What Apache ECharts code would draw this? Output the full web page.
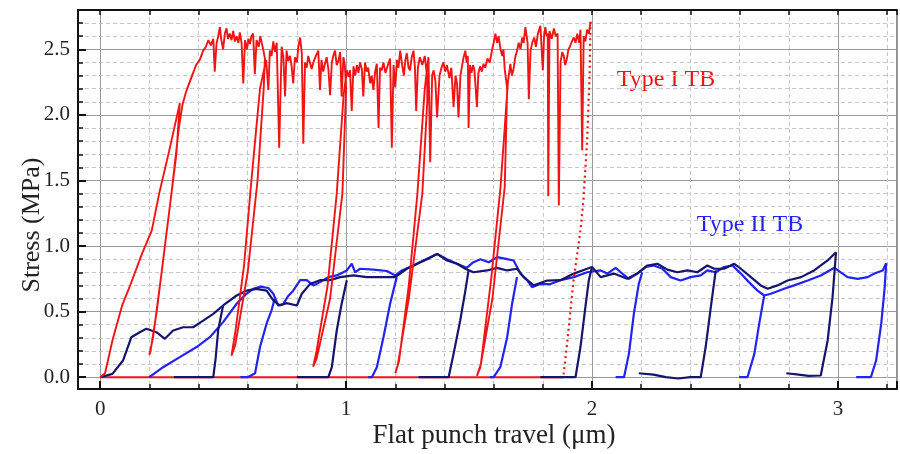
<!DOCTYPE html>
<html>
<head>
<meta charset="utf-8">
<title>Stress vs flat punch travel</title>
<script src="https://cdn.jsdelivr.net/npm/echarts@6/dist/echarts.min.js"></script>
<style>
  html, body { margin: 0; padding: 0; background: #fff; }
  #chart { width: 900px; height: 454px; }
</style>
</head>
<body>
<div id="chart"></div>
<script>
// ---- 数据----
// 坐标轴范围
var xRange = [-0.09, 3.24];
var yRange = [-0.09, 2.8];

// Type I TB 红色主曲线（含卸载/再加载回线）
var redMain = [
  [0, 0], [0.02, 0.03], [0.05, 0.28], [0.09, 0.55], [0.12, 0.69], [0.17, 0.94], [0.21, 1.12], [0.24, 1.40], [0.28, 1.72], [0.324, 2.09],
  [0.31, 1.7], [0.27, 1.1], [0.23, 0.5], [0.205, 0.2], [0.2, 0.17], [0.215, 0.3], [0.25, 0.8], [0.29, 1.4], [0.32, 1.9], [0.335, 2.08],
  [0.35, 2.18], [0.37, 2.28], [0.39, 2.38], [0.405, 2.42], [0.419, 2.49], [0.43, 2.52], [0.44, 2.57], [0.45, 2.53], [0.46, 2.58], [0.466, 2.33],
  [0.473, 2.54], [0.48, 2.6], [0.487, 2.67], [0.492, 2.58], [0.5, 2.5], [0.507, 2.62], [0.514, 2.66], [0.52, 2.58], [0.527, 2.62], [0.534, 2.57],
  [0.541, 2.64], [0.548, 2.56], [0.555, 2.6], [0.562, 2.55], [0.568, 2.63], [0.575, 2.55], [0.582, 2.24], [0.589, 2.57], [0.597, 2.5], [0.603, 2.58],
  [0.609, 2.54], [0.615, 2.6], [0.622, 2.62], [0.629, 2.31], [0.636, 2.57], [0.645, 2.52], [0.651, 2.6], [0.657, 2.59], [0.663, 2.5], [0.67, 2.43],
  [0.665, 2.2], [0.64, 1.5], [0.6, 0.8], [0.55, 0.25], [0.534, 0.165], [0.55, 0.35], [0.585, 0.85], [0.615, 1.5], [0.65, 2.2], [0.675, 2.42],
  [0.684, 2.19], [0.69, 2.49], [0.697, 2.45], [0.704, 2.56], [0.711, 2.48], [0.718, 2.55], [0.728, 1.75], [0.738, 2.52], [0.745, 2.44], [0.752, 2.14],
  [0.758, 2.49], [0.765, 2.41], [0.772, 2.45], [0.778, 2.38], [0.785, 2.24], [0.792, 2.44], [0.8, 2.4], [0.806, 2.52], [0.813, 2.59], [0.82, 2.47],
  [0.826, 1.78], [0.833, 2.4], [0.84, 2.36], [0.846, 2.45], [0.853, 2.44], [0.86, 2.35], [0.867, 2.40], [0.877, 2.45], [0.887, 2.49], [0.894, 2.19],
  [0.9, 2.42], [0.907, 2.33], [0.914, 2.39], [0.921, 2.44], [0.928, 2.35], [0.935, 2.15], [0.942, 2.4], [0.948, 2.45], [0.955, 2.49], [0.962, 2.38],
  [0.97, 2.42], [0.976, 2.48], [0.982, 2.14], [0.989, 2.44], [0.995, 2.38],
  [1.0, 2.2], [0.985, 1.4], [0.935, 0.6], [0.88, 0.14], [0.866, 0.08], [0.88, 0.2], [0.925, 0.7], [0.962, 1.4], [0.99, 2.15], [1.003, 2.34],
  [1.01, 2.29], [1.016, 2.34], [1.023, 2.03], [1.03, 2.37], [1.037, 2.3], [1.044, 2.38], [1.05, 2.32], [1.057, 2.40], [1.064, 2.35], [1.07, 2.14],
  [1.077, 2.40], [1.084, 2.33], [1.09, 2.36], [1.098, 2.24], [1.104, 2.3], [1.111, 2.19], [1.118, 2.33], [1.125, 2.39], [1.132, 1.90], [1.138, 2.36],
  [1.145, 2.34], [1.152, 2.4], [1.16, 2.32], [1.17, 2.38], [1.179, 2.43], [1.186, 1.75], [1.193, 2.38], [1.2, 2.21], [1.207, 2.42], [1.213, 2.36],
  [1.22, 2.49], [1.228, 2.38], [1.235, 2.30], [1.241, 2.42], [1.247, 2.47], [1.254, 2.36], [1.26, 2.34], [1.267, 2.44], [1.274, 2.49], [1.28, 2.36],
  [1.285, 2.03], [1.292, 2.36], [1.30, 2.44], [1.31, 2.38], [1.32, 2.45], [1.33, 2.28],
  [1.33, 2.1], [1.31, 1.4], [1.255, 0.6], [1.21, 0.09], [1.2, 0.03], [1.215, 0.12], [1.255, 0.7], [1.29, 1.4], [1.32, 2.2], [1.335, 2.44],
  [1.342, 1.64], [1.35, 2.3], [1.356, 2.34], [1.363, 2.26], [1.37, 1.98], [1.38, 2.30], [1.388, 2.36], [1.396, 2.40], [1.403, 2.33], [1.41, 2.38],
  [1.42, 2.28], [1.428, 2.36], [1.437, 2.06], [1.445, 2.30], [1.451, 2.24], [1.457, 1.98], [1.465, 2.30], [1.472, 2.38], [1.478, 2.44], [1.485, 2.49],
  [1.49, 2.4], [1.495, 2.45], [1.498, 1.90], [1.504, 2.38], [1.51, 2.32], [1.516, 2.38], [1.522, 2.34], [1.532, 2.06], [1.538, 2.32], [1.545, 2.37],
  [1.552, 2.33], [1.559, 2.39], [1.566, 2.36], [1.575, 2.43], [1.584, 2.4], [1.593, 2.49], [1.6, 2.55], [1.607, 2.62], [1.614, 2.55], [1.62, 2.60],
  [1.628, 2.5], [1.635, 2.45], [1.64, 2.5], [1.645, 2.35],
  [1.655, 2.2], [1.645, 1.45], [1.595, 0.6], [1.545, 0.07], [1.532, 0.01], [1.548, 0.1], [1.59, 0.75], [1.628, 1.45], [1.658, 2.25], [1.668, 2.39],
  [1.674, 2.3], [1.68, 2.34], [1.688, 2.44], [1.695, 2.49], [1.702, 2.55], [1.709, 2.5], [1.716, 2.59], [1.722, 2.55], [1.729, 2.67], [1.738, 2.55],
  [1.743, 2.12], [1.75, 2.49], [1.757, 2.55], [1.765, 2.59], [1.772, 2.52], [1.78, 2.62], [1.79, 2.68], [1.80, 2.34], [1.805, 2.6], [1.81, 2.67],
  [1.816, 2.6], [1.82, 2.62], [1.822, 1.38], [1.827, 2.64], [1.836, 2.58], [1.845, 2.66], [1.852, 2.6], [1.86, 2.62], [1.865, 1.31], [1.872, 2.40],
  [1.879, 2.48], [1.885, 2.45], [1.891, 2.38], [1.897, 2.42], [1.904, 2.5], [1.91, 2.52], [1.918, 2.56], [1.926, 2.59], [1.933, 2.55], [1.94, 2.62],
  [1.948, 2.55], [1.953, 2.65], [1.96, 1.73], [1.966, 2.60], [1.973, 2.56], [1.98, 2.65], [1.987, 2.62], [1.994, 2.71]
];
// 最后一次卸载（点线）
var redDotted = [[1.994, 2.71], [1.99, 2.3], [1.98, 1.8], [1.965, 1.35], [1.953, 1.12], [1.925, 0.74], [1.9, 0.28], [1.884, 0.01]];
// 红色零应力基线
var redBase = [[0, 0], [1.884, 0]];

// Type II TB 深蓝曲线
var navyCurve = [
  [0, 0], [0.05, 0.025], [0.093, 0.127], [0.127, 0.305], [0.161, 0.343], [0.188, 0.369], [0.229, 0.343], [0.263, 0.293], [0.297, 0.356], [0.337, 0.381],
  [0.378, 0.381], [0.419, 0.432], [0.46, 0.483], [0.5, 0.547], [0.555, 0.623], [0.595, 0.66], [0.636, 0.674], [0.677, 0.66], [0.704, 0.585], [0.73, 0.547],
  [0.758, 0.565], [0.8, 0.547], [0.82, 0.636], [0.853, 0.71], [0.894, 0.74], [0.935, 0.74], [0.976, 0.763], [1.03, 0.776], [1.084, 0.763], [1.138, 0.763],
  [1.2, 0.763], [1.247, 0.827], [1.302, 0.877], [1.33, 0.90], [1.37, 0.94], [1.41, 0.89], [1.451, 0.865], [1.485, 0.827], [1.518, 0.80], [1.573, 0.814],
  [1.614, 0.834], [1.655, 0.814], [1.695, 0.827], [1.722, 0.763], [1.763, 0.70], [1.818, 0.737], [1.872, 0.74], [1.926, 0.79], [1.98, 0.827], [2.0, 0.84],
  [2.035, 0.763], [2.089, 0.79], [2.143, 0.75], [2.184, 0.79], [2.225, 0.852], [2.266, 0.865], [2.306, 0.82], [2.347, 0.80], [2.388, 0.814], [2.428, 0.80],
  [2.469, 0.852], [2.497, 0.827], [2.537, 0.827], [2.578, 0.865], [2.605, 0.827], [2.646, 0.763], [2.686, 0.70], [2.714, 0.674], [2.754, 0.70], [2.795, 0.737],
  [2.85, 0.763], [2.903, 0.814], [2.958, 0.89], [2.992, 0.953]
];
// 深蓝再加载段
var navyReloads = [
  [[0.3, 0], [0.46, 0], [0.47, 0.15], [0.48, 0.36], [0.5, 0.547]],
  [[0.8, 0], [0.928, 0], [0.942, 0.076], [0.962, 0.356], [0.982, 0.56], [1.003, 0.74]],
  [[1.295, 0], [1.417, 0], [1.437, 0.178], [1.464, 0.432], [1.485, 0.66], [1.498, 0.814]],
  [[1.79, 0], [1.933, 0], [1.953, 0.23], [1.973, 0.534], [1.987, 0.74], [2.0, 0.84]],
  [[2.19, 0.03], [2.25, 0.02], [2.3, 0.0], [2.35, -0.01], [2.4, 0.0], [2.442, 0], [2.462, 0.23], [2.483, 0.534], [2.503, 0.814]],
  [[2.79, 0.03], [2.84, 0.02], [2.88, 0.01], [2.93, 0.013], [2.958, 0.28], [2.978, 0.61], [2.992, 0.953]]
];

// Type II TB 亮蓝曲线
var blueCurve = [
  [0.2, 0], [0.256, 0.076], [0.324, 0.153], [0.392, 0.23], [0.446, 0.305], [0.5, 0.42], [0.555, 0.56], [0.595, 0.636], [0.622, 0.674], [0.65, 0.69],
  [0.684, 0.68], [0.704, 0.636], [0.724, 0.547], [0.745, 0.56], [0.765, 0.62], [0.785, 0.66], [0.813, 0.74], [0.84, 0.74], [0.867, 0.70], [0.894, 0.725],
  [0.928, 0.763], [0.962, 0.776], [1.003, 0.814], [1.023, 0.865], [1.037, 0.80], [1.057, 0.827], [1.111, 0.82], [1.166, 0.81], [1.2, 0.776], [1.227, 0.814],
  [1.274, 0.852], [1.329, 0.903], [1.37, 0.94], [1.41, 0.90], [1.451, 0.865], [1.49, 0.834], [1.518, 0.877], [1.546, 0.90], [1.58, 0.877], [1.614, 0.915],
  [1.655, 0.90], [1.681, 0.89], [1.709, 0.79], [1.736, 0.74], [1.756, 0.686], [1.79, 0.71], [1.831, 0.71], [1.872, 0.74], [1.926, 0.763], [1.98, 0.80],
  [2.035, 0.814], [2.062, 0.79], [2.096, 0.834], [2.117, 0.80], [2.15, 0.75], [2.184, 0.79], [2.218, 0.84], [2.252, 0.852], [2.286, 0.827], [2.32, 0.763],
  [2.36, 0.737], [2.401, 0.763], [2.442, 0.776], [2.469, 0.814], [2.503, 0.80], [2.537, 0.84], [2.571, 0.852], [2.605, 0.79], [2.638, 0.725], [2.673, 0.66],
  [2.7, 0.623], [2.727, 0.636], [2.781, 0.674], [2.822, 0.70], [2.877, 0.737], [2.93, 0.776], [2.985, 0.834], [3.039, 0.763], [3.08, 0.75], [3.121, 0.763],
  [3.148, 0.79], [3.182, 0.814], [3.196, 0.87]
];
// 亮蓝再加载段
var blueReloads = [
  [[0.57, 0], [0.6, 0], [0.63, 0.03], [0.65, 0.23], [0.677, 0.41], [0.697, 0.51], [0.71, 0.6]],
  [[1.09, 0], [1.105, 0], [1.125, 0.076], [1.152, 0.305], [1.179, 0.56], [1.206, 0.763]],
  [[1.585, 0], [1.6, 0], [1.627, 0.076], [1.655, 0.305], [1.675, 0.56], [1.695, 0.763]],
  [[2.096, 0], [2.13, 0], [2.15, 0.178], [2.17, 0.483], [2.19, 0.71], [2.204, 0.80]],
  [[2.598, 0], [2.632, 0], [2.66, 0.178], [2.68, 0.41], [2.7, 0.623]],
  [[3.074, 0], [3.134, 0], [3.155, 0.127], [3.176, 0.41], [3.19, 0.686], [3.196, 0.87]]
];

// 刻度
var xMajorStep = 1, xMinorStep = 0.2;
var yMajorStep = 0.5, yMinorStep = 0.1;

(function () {
  var myChart = echarts.init(document.getElementById("chart"), null, { renderer: 'canvas' });

  var RED = '#f21414', BLUE = '#2323f0', NAVY = '#15156e';
  var serif = '"Liberation Serif", "DejaVu Serif", serif';

  // 生成一条折线
  function lineSeries(data, color, width, dash, z) {
    return {
      type: 'line',
      data: data,
      symbol: 'none',
      silent: true,
      z: z,
      lineStyle: { color: color, width: width, type: dash || 'solid' }
    };
  }

  // 仅保留整步刻度标签
  function stepLabel(step, digits) {
    return function (v) {
      var k = Math.round(v / step);
      return Math.abs(v - k * step) < 1e-6 ? v.toFixed(digits) : '';
    };
  }

  var series = [lineSeries(redBase, RED, 2, null, 2)];
  blueReloads.forEach(function (d) { series.push(lineSeries(d, BLUE, 2.2, null, 3)); });
  series.push(lineSeries(blueCurve, BLUE, 2.2, null, 3));
  navyReloads.forEach(function (d) { series.push(lineSeries(d, NAVY, 2.2, null, 4)); });
  series.push(lineSeries(navyCurve, NAVY, 2.2, null, 4));
  series.push(lineSeries(redMain, RED, 1.9, null, 5));
  series.push(lineSeries(redDotted, RED, 2.2, [2, 3.5], 5));

  var tickStyle = { color: '#111', width: 1.5 };

  var option = {
    animation: false,
    grid: { left: 78, right: 3, top: 10, bottom: 65, show: true, borderColor: '#222', borderWidth: 1 },
    xAxis: [
      { // 次刻度与虚线网格
        type: 'value', position: 'bottom', min: xRange[0], max: xRange[1], minInterval: xMinorStep, maxInterval: xMinorStep,
        axisLine: { show: false, onZero: false }, axisLabel: { show: false },
        axisTick: { inside: true, length: 5, lineStyle: tickStyle },
        splitLine: { lineStyle: { color: '#c8c8c8', type: [4, 3], width: 1 } }
      },
      { // 主刻度、标签与实线网格
        type: 'value', position: 'bottom', min: xRange[0], max: xRange[1], minInterval: xMajorStep, maxInterval: xMajorStep,
        axisLine: { onZero: false, lineStyle: { color: '#111', width: 2 } },
        axisTick: { inside: true, length: 8, lineStyle: { color: '#111', width: 2 } },
        axisLabel: { formatter: stepLabel(xMajorStep, 0), color: '#222', fontFamily: serif, fontSize: 21, margin: 10 },
        splitLine: { lineStyle: { color: '#9a9a9a', width: 1 } }
      },
      { // 顶部刻度
        type: 'value', position: 'top', min: xRange[0], max: xRange[1], minInterval: xMinorStep, maxInterval: xMinorStep,
        axisLine: { onZero: false, lineStyle: { color: '#111', width: 2 } },
        axisTick: { inside: true, length: 5, lineStyle: tickStyle },
        axisLabel: { show: false }, splitLine: { show: false }
      }
    ],
    yAxis: [
      {
        type: 'value', position: 'left', min: yRange[0], max: yRange[1], minInterval: yMinorStep, maxInterval: yMinorStep,
        axisLine: { show: false, onZero: false }, axisLabel: { show: false },
        axisTick: { inside: true, length: 5, lineStyle: tickStyle },
        splitLine: { lineStyle: { color: '#c8c8c8', type: [4, 3], width: 1 } }
      },
      {
        type: 'value', position: 'left', min: yRange[0], max: yRange[1], minInterval: yMajorStep, maxInterval: yMajorStep,
        axisLine: { show: true, onZero: false, lineStyle: { color: '#111', width: 2 } },
        axisTick: { inside: true, length: 8, lineStyle: { color: '#111', width: 2 } },
        axisLabel: { formatter: stepLabel(yMajorStep, 1), color: '#222', fontFamily: serif, fontSize: 21, margin: 8 },
        splitLine: { lineStyle: { color: '#9a9a9a', width: 1 } }
      }
    ],
    graphic: [
      { type: 'text', x: 32, y: 225, rotation: Math.PI / 2,
        style: { text: 'Stress (MPa)', font: '26px ' + serif, fill: '#222', align: 'center', verticalAlign: 'middle' } },
      { type: 'text', x: 494, y: 436,
        style: { text: 'Flat punch travel (μm)', font: '27px ' + serif, fill: '#222', align: 'center', verticalAlign: 'middle' } },
      { type: 'text', x: 666, y: 80,
        style: { text: 'Type I TB', font: '24px ' + serif, fill: RED, align: 'center', verticalAlign: 'middle' } },
      { type: 'text', x: 750, y: 225,
        style: { text: 'Type II TB', font: '24px ' + serif, fill: BLUE, align: 'center', verticalAlign: 'middle' } }
    ],
    series: series
  };

  myChart.setOption(option);
  window.addEventListener("resize", function () {
    myChart.resize();
  });
})();
</script>
</body>
</html>
